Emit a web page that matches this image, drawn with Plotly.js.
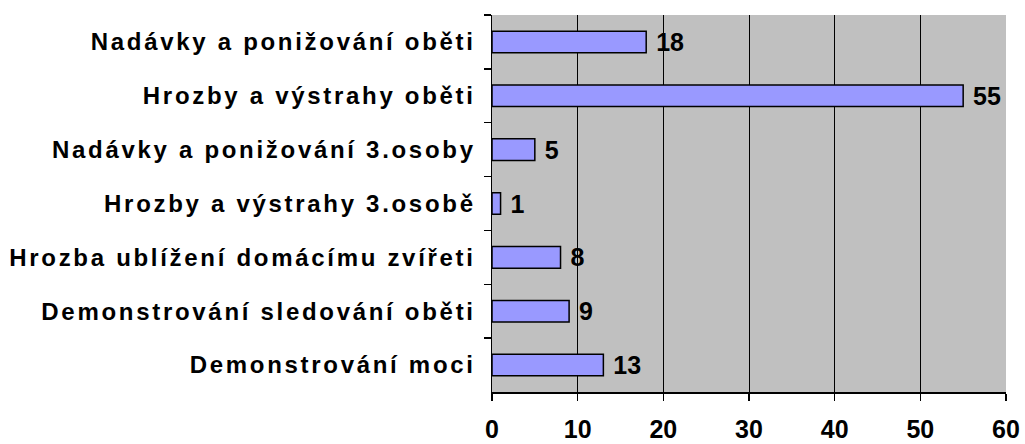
<!DOCTYPE html>
<html><head><meta charset="utf-8">
<script src="https://cdn.plot.ly/plotly-3.0.1.min.js"></script>
<style>
html,body{margin:0;padding:0;background:#fff}
#chart .ytick text{letter-spacing:2.7px}
</style>
</head><body>
<div id="chart" style="width:1025px;height:444px"></div>
<script>
const categories = [
  "Nadávky a ponižování oběti",
  "Hrozby a výstrahy oběti",
  "Nadávky a ponižování 3.osoby",
  "Hrozby a výstrahy 3.osobě",
  "Hrozba ublížení domácímu zvířeti",
  "Demonstrování sledování oběti",
  "Demonstrování moci"
];
const values = [18, 55, 5, 1, 8, 9, 13];
const xTicks = [0, 10, 20, 30, 40, 50, 60];

const FONT = "Liberation Sans, Arial, sans-serif";

const trace = {
  type: "bar",
  orientation: "h",
  y: categories,
  x: values,
  texttemplate: " %{x}",
  textposition: "outside",
  constraintext: "none",
  cliponaxis: false,
  textfont: {family: FONT, size: 25, color: "#000", weight: "bold"},
  marker: {color: "#9999FF", line: {color: "#000", width: 1.5}},
  hoverinfo: "none"
};

const layout = {
  width: 1025, height: 444,
  margin: {l: 492, r: 19, t: 15, b: 52},
  paper_bgcolor: "#fff",
  plot_bgcolor: "#C0C0C0",
  bargap: 0.6,
  showlegend: false,
  font: {family: FONT, color: "#000"},
  xaxis: {
    range: [0, 60],
    tickvals: xTicks,
    ticktext: xTicks.map(String),
    showgrid: true, gridcolor: "#000", gridwidth: 1,
    zeroline: false,
    showline: true, linecolor: "#000", linewidth: 1.5,
    ticks: "outside", ticklen: 7, tickcolor: "#000", tickwidth: 1.5,
    ticklabelstandoff: 7,
    tickfont: {size: 25, weight: "bold", family: FONT},
    fixedrange: true
  },
  yaxis: {
    type: "category",
    categoryorder: "array",
    categoryarray: categories,
    autorange: "reversed",
    showgrid: false,
    zeroline: false,
    showline: true, linecolor: "#000", linewidth: 1.5,
    ticks: "outside", ticklen: 7, tickcolor: "#000", tickwidth: 1.5,
    tickson: "boundaries",
    ticklabelstandoff: 10,
    tickfont: {size: 24, weight: "bold", family: FONT},
    fixedrange: true
  }
};

Plotly.newPlot("chart", [trace], layout, {displayModeBar: false, staticPlot: true});
</script>
</body></html>
